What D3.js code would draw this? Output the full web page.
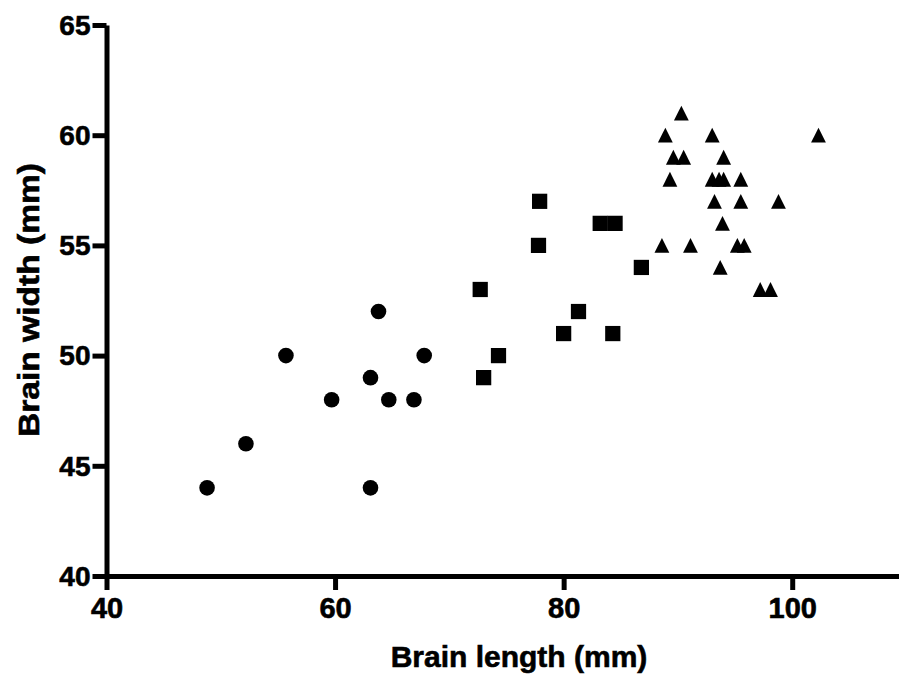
<!DOCTYPE html>
<html lang="en">
<head>
<meta charset="utf-8">
<title>Brain size</title>
<style>
  body { margin: 0; background: #fff; }
  svg { display: block; }
  .axis text { font-family: "Liberation Sans", Arial, sans-serif; font-weight: bold; fill: #000; stroke: #000; stroke-width: 0.6px; }
  .title { font-family: "Liberation Sans", Arial, sans-serif; font-weight: bold; font-size: 30px; fill: #000; stroke: #000; stroke-width: 0.6px; }
</style>
<script src="https://cdn.jsdelivr.net/npm/d3@7"></script>
</head>
<body>
<script>
// group 1 (circles)
var circleX = [48.8, 52.2, 55.7, 59.7, 63.1, 63.1, 63.8, 64.7, 66.9, 67.8];
var circleY = [44, 46, 50, 48, 49, 44, 52, 48, 48, 50];
// group 2 (squares)
var squareX = [72.7, 73.0, 74.3, 77.8, 77.9, 80.0, 81.3, 83.2, 84.5, 84.3, 86.8];
var squareY = [53, 49, 50, 55, 57, 51, 52, 56, 56, 51, 54];
// group 3 (triangles)
var triX = [90.3, 88.9, 93.0, 102.3, 89.6, 90.5, 94.0, 89.3, 93.0, 93.6, 94.0, 95.5,
            93.2, 95.5, 98.8, 93.9, 88.6, 91.1, 95.2, 95.8, 93.7, 97.2, 98.1];
var triY = [61, 60, 60, 60, 59, 59, 59, 58, 58, 58, 58, 58,
            57, 57, 57, 56, 55, 55, 55, 55, 54, 53, 53];

var xTicks = [40, 60, 80, 100];
var yTicks = [40, 45, 50, 55, 60, 65];

var width = 899, height = 675;

var svg = d3.select("body").append("svg")
  .attr("width", width)
  .attr("height", height);

var x = d3.scaleLinear().domain([40, 110]).range([106.5, 906.5]);
var y = d3.scaleLinear().domain([40, 65]).range([576, 25]);

// axes
var gx = svg.append("g")
  .attr("class", "axis")
  .attr("transform", "translate(0," + y(40) + ")")
  .call(d3.axisBottom(x).tickValues(xTicks).tickSize(14).tickSizeOuter(0).tickPadding(7));
gx.selectAll("text").style("font-size", "29px");

var gy = svg.append("g")
  .attr("class", "axis")
  .attr("transform", "translate(" + x(40) + ",0)")
  .call(d3.axisLeft(y).tickValues(yTicks).tickSize(14).tickSizeOuter(0).tickPadding(2));
gy.selectAll("text").style("font-size", "28px").attr("dy", "0.33em");

svg.selectAll(".axis path, .axis line")
  .attr("stroke", "#000")
  .attr("stroke-width", 5);

// markers
var tri = {
  draw: function(ctx, size) {
    var s = Math.sqrt(size);
    ctx.moveTo(0, -s / 2);
    ctx.lineTo(s / 2, s / 2);
    ctx.lineTo(-s / 2, s / 2);
    ctx.closePath();
  }
};

function plot(xs, ys, type, size) {
  var pts = xs.map(function(v, i) { return [v, ys[i]]; });
  svg.append("g").selectAll("path")
    .data(pts)
    .enter().append("path")
    .attr("transform", function(d) { return "translate(" + x(d[0]) + "," + y(d[1]) + ")"; })
    .attr("d", d3.symbol().type(type).size(size))
    .attr("fill", "#000");
}

plot(circleX, circleY, d3.symbolCircle, 191);
plot(squareX, squareY, d3.symbolSquare, 232);
plot(triX, triY, tri, 220);

// titles
svg.append("text")
  .attr("class", "title")
  .attr("x", 519)
  .attr("y", 667)
  .attr("text-anchor", "middle")
  .text("Brain length (mm)");

svg.append("text")
  .attr("class", "title")
  .attr("transform", "translate(39,300) rotate(-90)")
  .attr("text-anchor", "middle")
  .attr("textLength", 274)
  .attr("lengthAdjust", "spacingAndGlyphs")
  .text("Brain width (mm)");
</script>
</body>
</html>
